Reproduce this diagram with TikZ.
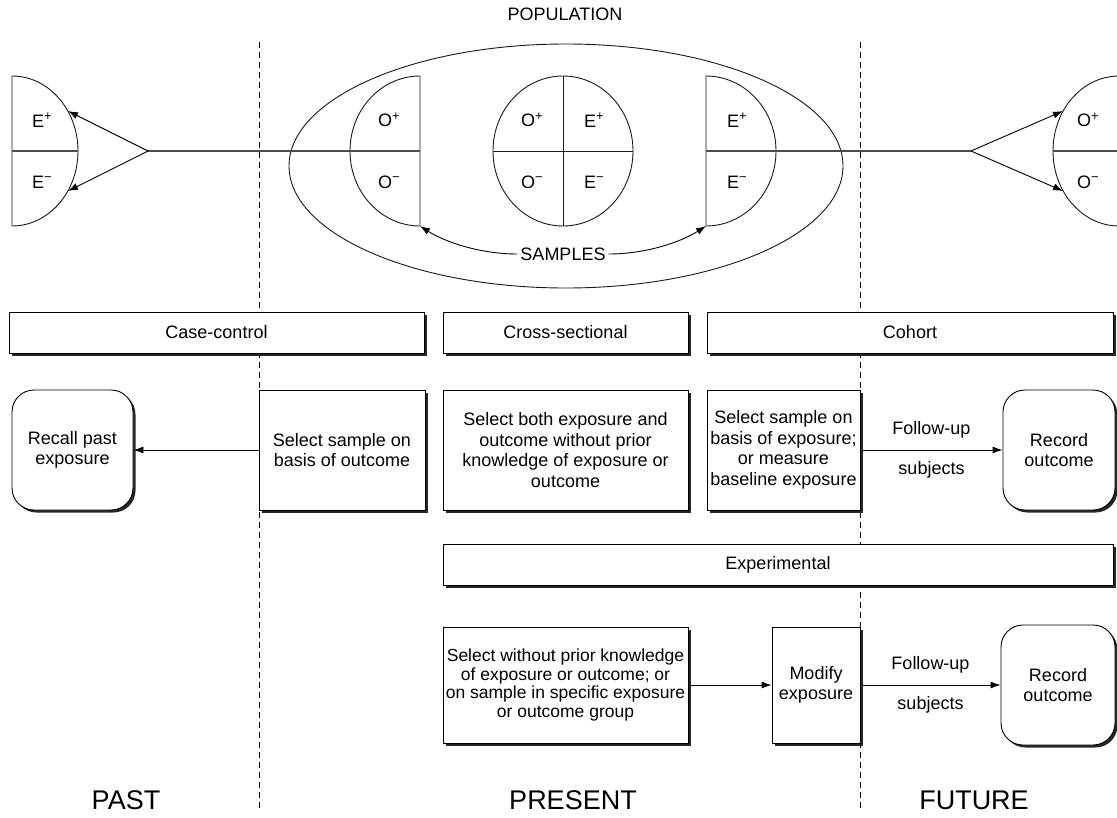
\documentclass[tikz,border=0pt]{standalone}
\usepackage{fontspec}
\setmainfont{Liberation Sans}
\usepackage{tikz}
\usetikzlibrary{arrows.meta, positioning, shadows}
\newcommand{\bodysize}{\fontsize{18}{20.5}\selectfont}
\newcommand{\erasize}{\fontsize{27}{30}\selectfont}
\newcommand{\sgn}[1]{\raisebox{6.5pt}{\fontsize{13}{13}\selectfont #1}}
\tikzset{
  outline/.style={line width=0.9pt, draw=black!90},
  axisline/.style={line width=1.1pt, draw=black!70},
  eraline/.style={line width=0.8pt, dash pattern=on 6pt off 4pt},
  designbox/.style={
    draw, line width=0.9pt, fill=white, align=center,
    font=\bodysize, minimum height=41pt, inner sep=2pt,
    general shadow={fill=black!85, shadow xshift=2.5pt, shadow yshift=-2.5pt}
  },
  stepbox/.style={
    draw, line width=0.9pt, fill=white, align=center,
    font=\bodysize, inner sep=2pt,
    general shadow={fill=black!85, shadow xshift=2.5pt, shadow yshift=-2.5pt}
  },
  endbox/.style={stepbox, rounded corners=22pt},
  flowarrow/.style={-{Latex[length=10pt,width=7pt]}, line width=0.9pt},
  forkarrow/.style={-{Latex[length=10pt,width=7pt]}, line width=0.9pt},
  cellabel/.style={font=\bodysize, inner sep=1pt},
  flowlabel/.style={font=\bodysize, inner sep=2pt},
  eralabel/.style={font=\erasize}
}

\begin{document}
\begin{tikzpicture}[x=1pt, y=-1pt]
  \useasboundingbox (0,0) rectangle (1117,817);

  % Time boundaries
  \draw[eraline] (259,42) -- (259,808);
  \draw[eraline] (860,42) -- (860,808);

  % Population
  \node[font=\bodysize] (population) at (565,14) {POPULATION};
  \draw[outline] (566,166) ellipse[x radius=277, y radius=122];

  % Past: exposure groups
  \draw[outline] (12,226) arc[start angle=90, end angle=-90, x radius=66, y radius=75] -- cycle;
  \draw[axisline] (12,151) -- (78,151);
  \node[cellabel] (pastEp) at (42,120) {E\sgn{+}};
  \node[cellabel] (pastEm) at (42,182) {E\sgn{−}};

  % Case-control sample
  \draw[outline] (420,226) arc[start angle=90, end angle=270, x radius=70, y radius=75] -- cycle;
  \node[cellabel] (caseOp) at (389,120) {O\sgn{+}};
  \node[cellabel] (caseOm) at (389,182) {O\sgn{−}};

  % Cross-sectional sample
  \draw[outline] (563,151) ellipse[x radius=70, y radius=75];
  \draw[outline] (493,151) -- (633,151);
  \draw[outline] (563,76) -- (563,226);
  \node[cellabel] (crossOp) at (532,120) {O\sgn{+}};
  \node[cellabel] (crossEp) at (594,120) {E\sgn{+}};
  \node[cellabel] (crossOm) at (532,182) {O\sgn{−}};
  \node[cellabel] (crossEm) at (594,182) {E\sgn{−}};

  % Cohort sample
  \draw[outline] (706,226) arc[start angle=90, end angle=-90, x radius=70, y radius=75] -- cycle;
  \node[cellabel] (cohortEp) at (737,120) {E\sgn{+}};
  \node[cellabel] (cohortEm) at (737,182) {E\sgn{−}};

  % Future: outcome groups
  \draw[outline] (1119,226) arc[start angle=90, end angle=270, x radius=66, y radius=75] -- cycle;
  \draw[axisline] (1053,151) -- (1119,151);
  \node[cellabel] (futureOp) at (1088,120) {O\sgn{+}};
  \node[cellabel] (futureOm) at (1088,182) {O\sgn{−}};

  % Time axis and forks
  \coordinate (pastfork) at (148,151);
  \coordinate (futurefork) at (971,151);
  \coordinate (pastEtop) at (68,111);
  \coordinate (pastEbot) at (68,191);
  \coordinate (futureOtop) at (1063,111);
  \coordinate (futureObot) at (1063,191);
  \draw[axisline] (pastfork) -- (420,151);
  \draw[axisline] (706,151) -- (futurefork);
  \draw[forkarrow] (pastfork) -- (pastEtop);
  \draw[forkarrow] (pastfork) -- (pastEbot);
  \draw[forkarrow] (futurefork) -- (futureOtop);
  \draw[forkarrow] (futurefork) -- (futureObot);

  % Samples
  \node[font=\bodysize, inner sep=3pt] (samples) at (563,254) {SAMPLES};
  \coordinate (caseSample) at (420,226);
  \coordinate (cohortSample) at (706,226);
  \draw[forkarrow] (samples.west) .. controls (480,254) and (445,242) .. (caseSample);
  \draw[forkarrow] (samples.east) .. controls (646,254) and (681,242) .. (cohortSample);

  % Study designs
  \node[designbox, minimum width=415pt] (casecontrol) at (216.5,332.5) {Case-control};
  \node[designbox, minimum width=245pt] (crosssect) at (565.5,332.5) {Cross-sectional};
  \node[designbox, minimum width=406pt] (cohort) at (910,332.5) {Cohort};

  \node[endbox, minimum width=121pt, minimum height=120pt] (recall) at (72.5,450)
    {Recall past\\exposure};
  \node[stepbox, minimum width=166pt, minimum height=120pt] (selcase) at (342,450)
    {Select sample on\\basis of outcome};
  \node[stepbox, minimum width=245pt, minimum height=120pt] (selcross) at (565.5,450)
    {Select both exposure and\\outcome without prior\\knowledge of exposure or\\outcome};
  \node[stepbox, minimum width=153pt, minimum height=120pt] (selcohort) at (783.5,450)
    {Select sample on\\basis of exposure;\\or measure\\baseline exposure};
  \node[endbox, minimum width=112pt, minimum height=120pt] (reccohort) at (1059,450)
    {Record\\outcome};

  \draw[flowarrow] (selcase) -- (recall);
  \draw[flowarrow] (selcohort) -- (reccohort)
    node[flowlabel, midway, above=9pt] (fupcohort) {Follow-up}
    node[flowlabel, midway, below=9pt] (subjcohort) {subjects};

  % Experimental
  \node[designbox, minimum width=670pt] (experimental) at (778,564.5) {Experimental};

  \node[stepbox, minimum width=245pt, minimum height=116pt,
    font=\fontsize{17.5}{18.5}\selectfont] (selexp) at (565.5,685)
    {Select without prior knowledge\\of exposure or outcome; or\\on sample in specific exposure\\or outcome group};
  \node[stepbox, minimum width=88pt, minimum height=116pt] (modify) at (816,685)
    {Modify\\exposure};
  \node[endbox, minimum width=114pt, minimum height=120pt] (recexp) at (1058,685)
    {Record\\outcome};

  \draw[flowarrow] (selexp) -- (modify);
  \draw[flowarrow] (modify) -- (recexp)
    node[flowlabel, midway, above=9pt] (fupexp) {Follow-up}
    node[flowlabel, midway, below=9pt] (subjexp) {subjects};

  % Time periods
  \node[eralabel] (past) at (126,800) {PAST};
  \node[eralabel] (present) at (573,800) {PRESENT};
  \node[eralabel] (future) at (974,800) {FUTURE};
\end{tikzpicture}
\end{document}
